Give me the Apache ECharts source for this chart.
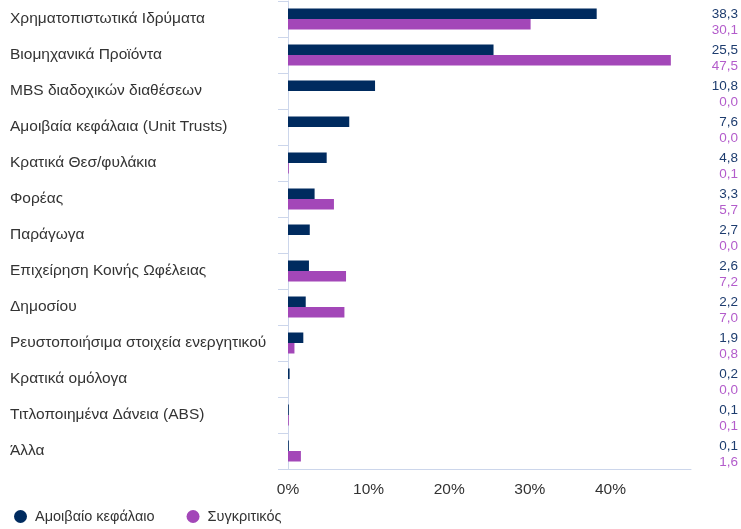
<!DOCTYPE html>
<html>
<head>
<meta charset="utf-8">
<script src="https://cdn.jsdelivr.net/npm/echarts@6/dist/echarts.min.js"></script>
<style>
  html, body { margin: 0; padding: 0; background: #fff; }
  #chart { width: 741px; height: 529px; }
</style>
</head>
<body>
<div id="chart"></div>
<script>
  var categories = [
    'Χρηματοπιστωτικά Ιδρύματα',
    'Βιομηχανικά Προϊόντα',
    'MBS διαδοχικών διαθέσεων',
    'Αμοιβαία κεφάλαια (Unit Trusts)',
    'Κρατικά Θεσ/φυλάκια',
    'Φορέας',
    'Παράγωγα',
    'Επιχείρηση Κοινής Ωφέλειας',
    'Δημοσίου',
    'Ρευστοποιήσιμα στοιχεία ενεργητικού',
    'Κρατικά ομόλογα',
    'Τιτλοποιημένα Δάνεια (ABS)',
    'Άλλα'
  ]
  var fundValues = [38.3, 25.5, 10.8, 7.6, 4.8, 3.3, 2.7, 2.6, 2.2, 1.9, 0.2, 0.1, 0.1]
  var compValues = [30.1, 47.5, 0.0, 0.0, 0.1, 5.7, 0.0, 7.2, 7.0, 0.8, 0.0, 0.1, 1.6]
  var seriesNames = ['Αμοιβαίο κεφάλαιο', 'Συγκριτικός']

  var navy = '#002b5f'
  var purple = '#a347b8'

  function fmt (v) {
    return v.toFixed(1).replace('.', ',')
  }

  var myChart = echarts.init(document.getElementById('chart'))
  myChart.setOption({
    animation: false,
    textStyle: { fontFamily: 'Liberation Sans, Arial, sans-serif' },
    color: [navy, purple],
    legend: {
      data: seriesNames,
      left: 9,
      top: 504,
      icon: 'circle',
      itemWidth: 19,
      itemHeight: 13,
      itemGap: 32,
      textStyle: { color: '#333', fontSize: 14.5 }
    },
    grid: {
      left: 288,
      right: 49,
      top: 1,
      bottom: 60,
      containLabel: false
    },
    xAxis: {
      type: 'value',
      min: 0,
      max: 50,
      interval: 10,
      splitLine: { show: false },
      axisLine: { show: true, lineStyle: { color: '#ccd6eb' } },
      axisTick: { show: false },
      axisLabel: {
        color: '#333',
        fontSize: 15.5,
        margin: 13,
        showMaxLabel: false,
        formatter: '{value}%'
      }
    },
    yAxis: [{
      type: 'category',
      inverse: true,
      data: categories,
      axisLine: { show: true, lineStyle: { color: '#ccd6eb' } },
      axisTick: { show: true, length: 10, lineStyle: { color: '#ccd6eb' } },
      axisLabel: {
        color: '#333',
        fontSize: 15.5,
        align: 'left',
        margin: 278,
        padding: [3, 0, 0, 0]
      }
    }, {
      type: 'category',
      inverse: true,
      position: 'right',
      data: categories,
      axisLine: { show: false },
      axisTick: { show: false },
      axisLabel: {
        align: 'right',
        margin: 47,
        padding: [7, 0, 0, 0],
        formatter: function (value, index) {
          return '{a|' + fmt(fundValues[index]) + '}\n{b|' + fmt(compValues[index]) + '}'
        },
        rich: {
          a: { color: '#1d3c6e', fontSize: 13.5, lineHeight: 16 },
          b: { color: '#b35ccb', fontSize: 13.5, lineHeight: 16 }
        }
      }
    }],
    series: [
      {
        name: seriesNames[0],
        type: 'bar',
        data: fundValues,
        barWidth: 10.5,
        barGap: '0%'
      },
      {
        name: seriesNames[1],
        type: 'bar',
        data: compValues,
        barWidth: 10.5,
        barGap: '0%'
      }
    ]
  })
</script>
</body>
</html>
